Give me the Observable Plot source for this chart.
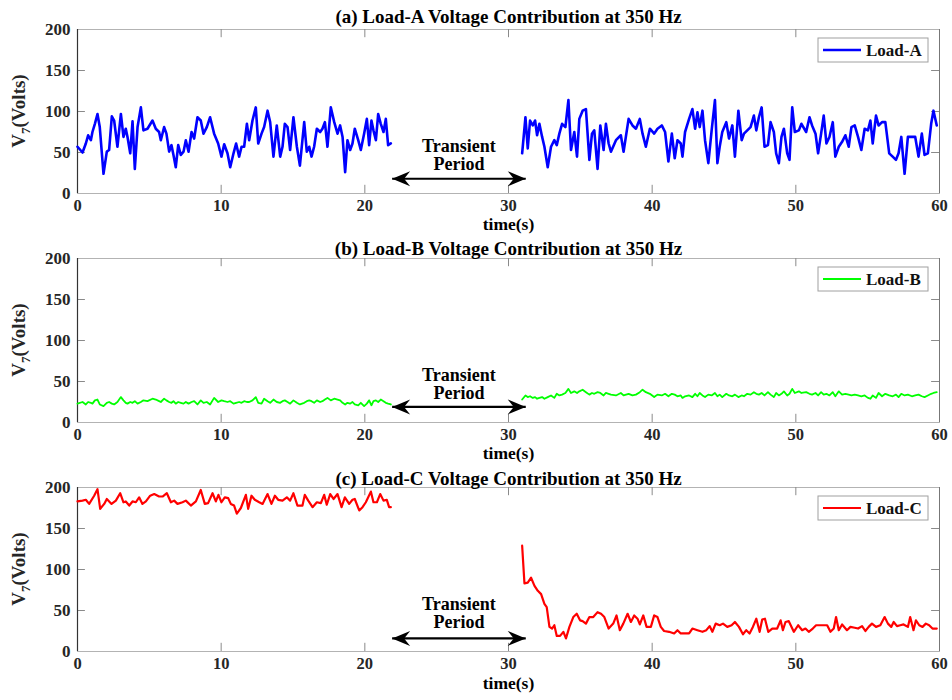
<!DOCTYPE html>
<html><head><meta charset="utf-8">
<script src="https://cdn.jsdelivr.net/npm/d3@7"></script>
<script src="https://cdn.jsdelivr.net/npm/@observablehq/plot@0.6"></script>
<style>
body{margin:0;background:#fff;}
#chart{width:952px;height:700px;position:relative;font-family:"Liberation Serif","Times New Roman",serif;}
#chart svg{display:block;background:transparent !important;overflow:visible !important;}
</style></head><body><div id="chart"></div>
<script>
const xTicks=[0,10,20,30,40,50,60];
const yTicks=[0,50,100,150,200];

// Load-A (shared sampling times also used for Load-B)
const aTimeL=[0,0.35,0.58,0.74,0.93,1.04,1.21,1.39,1.55,1.81,2.04,2.20,2.39,2.55,2.78,3.02,3.20,3.36,3.48,3.67,3.83,3.99,4.18,4.41,4.59,4.87,5.22,5.45,5.68,5.80,6.03,6.19,6.38,6.54,6.68,6.84,7.01,7.19,7.38,7.54,7.73,7.94,8.12,8.35,8.58,8.77,9.00,9.23,9.51,9.79,10.02,10.21,10.44,10.63,10.86,11.04,11.25,11.42,11.60,11.79,11.95,12.18,12.41,12.58,12.81,12.99,13.23,13.41,13.64,13.87,14.11,14.27,14.43,14.62,14.80,15.03,15.27,15.48,15.78,15.96,16.13,16.29,16.47,16.66,16.89,17.05,17.22,17.40,17.63,17.87,18.10,18.28,18.45,18.63,18.79,18.98,19.14,19.30,19.54,19.72,19.95,20.14,20.30,20.46,20.60,20.77,20.93,21.11,21.30,21.46,21.62,21.81];
const aVoltL=[57,50,61,71,65,75,85,97,81,24,51,53,94,89,57,97,69,79,69,49,88,30,81,105,77,79,89,79,75,65,81,73,51,59,47,32,59,47,51,65,51,75,67,93,89,73,81,93,73,61,45,60,49,32,49,61,45,57,57,85,65,89,105,61,73,81,101,87,45,83,45,57,85,81,53,93,57,34,87,51,57,45,57,79,75,79,87,57,105,87,73,83,69,26,65,53,61,79,65,53,73,91,59,89,77,65,97,85,75,91,59,61];
const aTimeR=[30.95,31.18,31.34,31.50,31.69,31.85,31.99,32.15,32.34,32.50,32.73,32.96,33.19,33.36,33.54,33.73,33.96,34.17,34.35,34.58,34.77,34.93,35.16,35.39,35.63,35.81,35.97,36.20,36.39,36.62,36.78,36.97,37.13,37.48,37.82,38.01,38.36,38.63,38.87,39.14,39.33,39.56,39.84,40.14,40.37,40.67,40.90,41.13,41.37,41.57,41.76,41.99,42.11,42.29,42.57,42.80,42.99,43.15,43.31,43.50,43.68,43.91,44.14,44.37,44.54,44.70,44.88,45.16,45.35,45.58,45.76,46.00,46.23,46.39,46.62,46.85,47.08,47.25,47.43,47.62,47.82,48.06,48.24,48.47,48.63,48.82,49.00,49.17,49.40,49.56,49.75,49.93,50.21,50.39,50.72,50.95,51.13,51.37,51.55,51.76,51.94,52.13,52.34,52.57,52.75,52.99,53.22,53.45,53.68,53.87,54.10,54.33,54.56,54.79,55.02,55.19,55.35,55.58,55.76,56.00,56.23,56.50,56.74,56.97,57.15,57.34,57.57,57.80,58.08,58.31,58.54,58.77,58.96,59.19,59.42,59.58,59.81];
const aVoltR=[49,93,55,89,83,89,71,85,69,57,32,57,65,59,73,85,81,114,53,75,45,91,101,103,41,73,77,30,83,53,85,61,51,65,71,51,91,83,79,91,73,57,79,73,79,83,75,39,73,43,65,61,45,75,91,103,79,99,81,101,65,37,77,114,37,57,75,87,67,83,45,101,65,73,77,81,95,77,93,105,57,59,87,75,49,37,69,79,49,41,105,75,77,85,75,93,83,73,49,73,95,61,69,87,45,57,63,71,57,81,83,69,53,79,77,89,61,95,83,87,87,49,45,41,49,69,24,69,69,69,45,73,47,49,85,101,83];

// Load-B (same sampling times as Load-A)
const bVoltL=[23,25,22,25,24,23,27,28,22,20,24,25,23,22,25,31,27,24,23,25,24,26,23,25,27,26,29,28,26,25,29,27,25,24,26,23,25,24,23,25,23,25,26,22,27,24,25,22,30,25,27,26,25,26,23,24,25,24,26,25,25,27,31,24,23,29,26,24,28,25,24,26,27,25,23,27,24,22,24,26,27,26,24,27,25,26,28,30,27,29,28,27,24,22,24,23,25,22,21,24,20,23,27,21,26,27,25,28,26,24,23,22];
const bVoltR=[28,33,31,32,30,31,29,30,31,29,31,33,30,35,33,34,36,41,36,38,36,38,40,37,34,36,35,37,36,33,36,35,34,33,36,33,35,33,34,37,40,37,35,31,34,33,35,32,35,34,32,33,30,32,33,31,35,32,36,33,31,34,33,36,32,34,31,35,33,32,34,31,33,32,35,34,37,35,34,36,33,37,34,31,36,33,35,38,33,35,41,36,38,36,37,35,34,36,33,37,34,35,33,37,32,38,34,35,34,33,34,33,32,33,30,29,33,30,36,32,35,33,32,34,31,35,33,34,32,33,34,32,31,33,35,36,37];

// Load-C
const cTimeL=[0.00,0.35,0.58,0.81,1.16,1.39,1.58,1.86,2.04,2.37,2.67,2.97,3.20,3.36,3.60,3.83,4.06,4.29,4.52,4.76,5.06,5.34,5.68,5.92,6.22,6.50,6.73,6.96,7.31,7.54,7.89,8.24,8.58,8.86,9.09,9.40,9.63,9.81,10.02,10.25,10.49,10.67,10.90,11.09,11.37,11.72,11.88,12.11,12.34,12.65,12.88,13.23,13.50,13.74,13.97,14.27,14.57,14.80,15.03,15.31,15.66,15.82,16.06,16.36,16.66,16.94,17.17,17.35,17.59,17.82,18.10,18.38,18.61,18.91,19.14,19.30,19.61,19.84,20.07,20.42,20.60,20.84,21.07,21.30,21.53,21.69,21.81];
const cVoltL=[183,184,185,180,190,198,174,180,186,180,184,193,182,183,178,183,182,188,180,183,190,192,189,189,193,182,184,180,182,184,178,183,197,180,181,193,183,191,182,188,187,180,178,168,175,191,174,190,185,182,180,192,180,190,185,184,188,184,193,178,178,191,184,176,182,181,191,179,192,186,192,176,188,180,185,186,172,176,182,195,182,182,192,184,185,176,176];
const cTimeR=[30.95,31.11,31.34,31.57,31.81,32.04,32.27,32.50,32.66,32.85,33.03,33.19,33.36,33.59,33.82,34.00,34.24,34.51,34.75,34.98,35.16,35.39,35.63,35.90,36.20,36.44,36.67,36.97,37.29,37.52,37.75,37.99,38.29,38.52,38.75,38.98,39.14,39.38,39.61,39.91,40.14,40.37,40.60,40.83,41.18,41.53,41.76,41.99,42.29,42.57,42.80,43.15,43.50,43.77,44.00,44.19,44.42,44.70,44.93,45.23,45.53,45.76,46.04,46.32,46.55,46.78,47.01,47.25,47.48,47.66,47.85,48.08,48.36,48.70,48.94,49.10,49.28,49.51,49.86,50.16,50.44,50.67,50.90,51.18,51.41,51.83,52.18,52.41,52.64,52.80,52.99,53.22,53.56,53.80,54.10,54.33,54.61,54.84,55.07,55.30,55.58,55.88,56.18,56.41,56.64,56.81,57.04,57.27,57.50,57.80,57.96,58.19,58.36,58.59,58.82,59.05,59.28,59.51,59.81];
const cVoltR=[129,83,84,90,80,74,70,58,54,30,28,32,19,19,24,16,30,42,46,38,37,34,42,42,48,46,42,28,34,44,26,34,46,36,44,40,33,44,30,30,44,42,30,25,24,22,26,22,22,22,28,26,24,26,31,24,34,32,34,30,32,36,30,21,26,22,30,40,24,39,40,24,28,28,38,26,36,37,24,32,26,28,24,28,32,32,32,24,28,42,26,33,26,30,29,28,31,25,30,34,30,32,42,34,30,36,31,32,33,30,42,26,38,32,30,34,32,28,28];

const titles=["(a) Load-A Voltage Contribution at 350 Hz","(b) Load-B Voltage Contribution at 350 Hz","(c) Load-C Voltage Contribution at 350 Hz"];
const legendLabels=["Load-A","Load-B","Load-C"];
const seriesColors=["#0000ff","#00ff00","#ff0000"];
const transientLabel="Transient\nPeriod";
const transientLabelY=47;
const transientStart=21.9, transientEnd=31.2;
const arrowLevels=[18,19,16];

const FONT='"Liberation Serif","Times New Roman",serif';
const arrowHead={draw(ctx){const L=18,W=7.5,N=12;ctx.moveTo(0,0);ctx.lineTo(-L,-W);ctx.lineTo(-N,0);ctx.lineTo(-L,W);ctx.closePath();}};
const zip=(t,v)=>t.slice(0,Math.min(t.length,v.length)).map((x,i)=>({t:x,v:v[i]}));

const panels=[
  {segs:[[aTimeL,aVoltL],[aTimeR,aVoltR]],sw:2.6,height:230,mt:29,mb:37,titleDy:-7,timeDy:36},
  {segs:[[aTimeL,bVoltL],[aTimeR,bVoltR]],sw:1.8,height:230,mt:28,mb:38,titleDy:-4,timeDy:36},
  {segs:[[cTimeL,cVoltL],[cTimeR,cVoltR]],sw:2.2,height:240,mt:27,mb:49,titleDy:-3,timeDy:37}
];

const root=document.getElementById("chart");
panels.forEach((p,k)=>{
  const W=952, ML=77, MR=13;
  const mid=(transientStart+transientEnd)/2;
  const chart=Plot.plot({
    width:W,height:p.height,marginTop:p.mt,marginBottom:p.mb,marginLeft:ML,marginRight:MR,
    style:{fontFamily:FONT,fontSize:"16px",fontWeight:"bold",background:"transparent",color:"#262626",overflow:"visible"},
    x:{domain:[0,60]},
    y:{domain:[0,200]},
    marks:[
      Plot.frame({stroke:"#b3b3b3"}),
      Plot.ruleX(xTicks.slice(1,-1),{x:d=>d,y1:0,y2:10,stroke:"#8a8a8a"}),
      Plot.ruleX(xTicks.slice(1,-1),{x:d=>d,y1:190,y2:200,stroke:"#8a8a8a"}),
      Plot.ruleY(yTicks.slice(1,-1),{y:d=>d,x1:0,x2:0.55,stroke:"#8a8a8a"}),
      Plot.ruleY(yTicks.slice(1,-1),{y:d=>d,x1:59.45,x2:60,stroke:"#8a8a8a"}),
      Plot.ruleX([0],{stroke:"#333",strokeWidth:1.2}),
      Plot.ruleX([60],{stroke:"#777"}),
      Plot.axisX({ticks:xTicks,tickSize:0,tickPadding:6,label:null,fontSize:16.5}),
      Plot.axisY({ticks:yTicks,tickSize:0,tickPadding:7,label:null,fontSize:17}),
      ...p.segs.map(([t,v])=>Plot.line(zip(t,v),{x:"t",y:"v",stroke:seriesColors[k],strokeWidth:p.sw,strokeLinejoin:"round"})),
      Plot.link([arrowLevels[k]],{x1:transientStart,x2:transientEnd,y1:d=>d,y2:d=>d,stroke:"black",strokeWidth:2.2}),
      Plot.dot([{x:transientStart,y:arrowLevels[k],ang:180},{x:transientEnd,y:arrowLevels[k],ang:0}],{x:"x",y:"y",rotate:"ang",symbol:arrowHead,fill:"black",stroke:"none"}),
      Plot.text([transientLabel],{x:mid,y:transientLabelY,text:d=>d,fontSize:18,lineHeight:1.02,fontWeight:"bold",fill:"black"}),
      Plot.text([titles[k]],{frameAnchor:"top",x:30,lineAnchor:"bottom",dy:p.titleDy,text:d=>d,fontSize:19,fontWeight:"bold",fill:"black"}),
      Plot.text(["time(s)"],{x:30,frameAnchor:"bottom",dy:p.timeDy,text:d=>d,fontSize:17.5,fontWeight:"bold",fill:"black"})
    ]
  });
  root.appendChild(chart);
  const svg=d3.select(chart);
  // y-axis label with subscript
  const cy=(p.mt+(p.height-p.mb))/2;
  const yl=svg.append("text").attr("transform",`translate(25,${cy}) rotate(-90)`)
    .attr("text-anchor","middle").attr("font-family",FONT).attr("font-weight","bold").attr("font-size",19).attr("fill","#262626");
  yl.append("tspan").text("V");
  yl.append("tspan").attr("dy",5).attr("font-size",13).text("7");
  yl.append("tspan").attr("dy",-5).text("(Volts)");
  // legend box
  const bx=W-MR-121, by=p.mt+9;
  const g=svg.append("g");
  g.append("rect").attr("x",bx).attr("y",by).attr("width",110).attr("height",24).attr("fill","white").attr("stroke","#a0a0a0");
  g.append("line").attr("x1",bx+5).attr("x2",bx+43).attr("y1",by+12).attr("y2",by+12).attr("stroke",seriesColors[k]).attr("stroke-width",p.sw);
  g.append("text").attr("x",bx+48).attr("y",by+18).attr("text-anchor","start").attr("font-family",FONT).attr("font-weight","bold").attr("font-size",17).attr("fill","#111").text(legendLabels[k]);
});
</script></body></html>
